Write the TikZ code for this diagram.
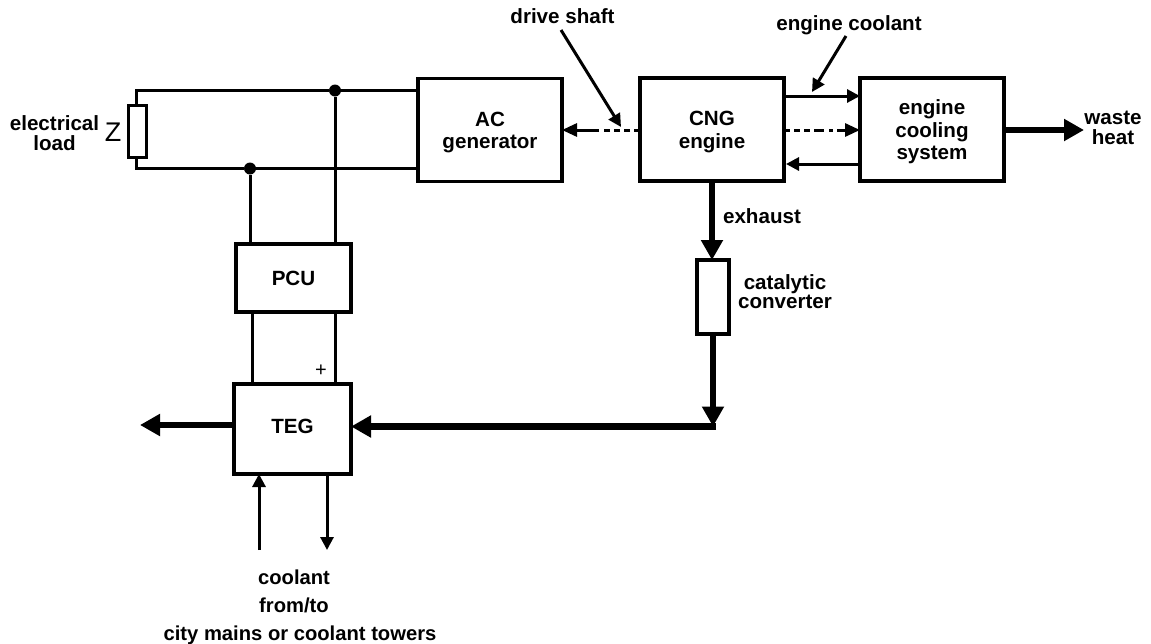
\documentclass[tikz,border=0pt]{standalone}
\usepackage{fontspec}
\setmainfont{Liberation Sans}
\usetikzlibrary{arrows.meta,calc}
\tikzset{
  x=1pt,y=-1pt,
  blk/.style={draw,line width=3.4pt,rectangle,inner sep=0pt,outer sep=0pt,align=center,font=\bfseries\fontsize{20.6}{22.5}\selectfont,anchor=north west},
  lbl/.style={inner sep=0pt,align=center,font=\bfseries\fontsize{20.6}{20}\selectfont},
  wire/.style={line width=3pt},
  flow/.style={line width=3pt,-{Triangle[length=13pt,width=13pt]}},
  dflow/.style={flow,-{Triangle[length=15pt,width=13pt]}},
  ptr/.style={line width=3pt,-{Triangle[length=13pt,width=13pt]}},
  big/.style={line width=6.5pt,-{Triangle[length=20pt,width=21pt]}},
  dot/.style={circle,fill=black,inner sep=0pt,minimum size=12pt},
}
\newcommand{\lowerstrut}{\rule{0pt}{19.5pt}}
\begin{document}
\begin{tikzpicture}
\useasboundingbox (0,0) rectangle (1151,643);
\node[blk,minimum width=144pt,minimum height=103pt] (ac) at (418,78.5) {\lowerstrut AC\\generator};
\node[blk,minimum width=144pt,minimum height=103pt] (cng) at (640,78) {\lowerstrut CNG\\engine};
\node[blk,minimum width=144pt,minimum height=103pt] (cool) at (860,78) {\lowerstrut engine\\cooling\\system};
\node[blk,minimum width=115pt,minimum height=68pt] (pcu) at (236,244) {PCU};
\node[blk,minimum width=117pt,minimum height=90pt] (teg) at (234,384) {\rule[-4.5pt]{0pt}{4.5pt}TEG};
\node[blk,minimum width=32pt,minimum height=74pt] (cat) at (697,260) {};
\node[blk,line width=3pt,minimum width=18pt,minimum height=52pt] (load) at (128,105) {};
\node[dot] (j1) at (335,90.5) {};
\node[dot] (j2) at (250,168.5) {};
\node[lbl] (tload) at (54.5,133) {electrical\\load};
\node[inner sep=0pt,font=\fontsize{27}{28}\selectfont] (z) at (113,132) {Z};
\node[inner sep=0pt,font=\fontsize{20}{22}\selectfont] (plus) at (321,371) {+};
\node[lbl] (tshaft) at (562.5,16.5) {drive shaft};
\node[lbl] (tcool) at (849,25) {engine coolant};
\node[lbl] (twaste) at (1113,127.5) {waste\\heat};
\node[lbl] (texh) at (762,216) {exhaust};
\node[lbl,font=\bfseries\fontsize{20.6}{19}\selectfont] (tcat) at (785,292) {catalytic\\converter};
\node[lbl,font=\bfseries\fontsize{20.2}{28}\selectfont] (tcoolant) at (300,607) {coolant\kern12pt\relax\\from/to\kern12pt\relax\\city mains or coolant towers};
% wiring
\draw[wire] (ac.west |- j1) -- (j1) -- (136,90.5) -- (load.north -| 136,0);
\draw[wire] (ac.west |- 0,168.5) -- (j2) -- (136,168.5) -- (load.south -| 136,0);
\draw[wire] (j1) -- (pcu.north -| j1);
\draw[wire] (pcu.south -| j1) -- (teg.north -| j1);
\draw[wire] (j2) -- (pcu.north -| j2);
\draw[wire] (pcu.south -| 252,0) -- (teg.north -| 252,0);
% shaft
\draw[dflow,dash pattern=on 6pt off 4pt on 6pt off 4pt on 6pt off 4pt on 6pt off 5pt on 60pt] (cng.west |- 0,130) -- (ac.east |- 0,130);
\coordinate (p1) at (561,30);
\coordinate (p1e) at (621,127);
\draw[ptr] (p1) -- (p1e);
\coordinate (p2) at (846,36);
\coordinate (p2e) at (812,92);
\draw[ptr] (p2) -- (p2e);
% cooling
\draw[flow] (cng.east |- 0,96) -- (cool.west |- 0,96);
\draw[dflow,dash pattern=on 6pt off 4pt on 6pt off 4pt on 6pt off 4pt on 10pt off 5pt on 4pt off 4pt on 60pt] (cng.east |- 0,130) -- (cool.west |- 0,130);
\draw[flow] (cool.west |- 0,164) -- (786,164);
\draw[big] (cool.east |- 0,130) -- (1084,130);
% exhaust
\draw[big] (cng.south -| 712,0) -- (cat.north -| 712,0);
\coordinate (bend) at (713,426.5);
\draw[big] (cat.south -| 713,0) -- (bend);
\draw[big] (716,426.5) -- (teg.east |- bend);
\coordinate (out) at (140,425);
\draw[big] (teg.west |- out) -- (out);
% coolant
\coordinate (cin) at (259,550);
\coordinate (cout) at (327,550);
\draw[flow] (cin) -- (teg.south -| cin);
\draw[flow] (teg.south -| cout) -- (cout);
\end{tikzpicture}
\end{document}
